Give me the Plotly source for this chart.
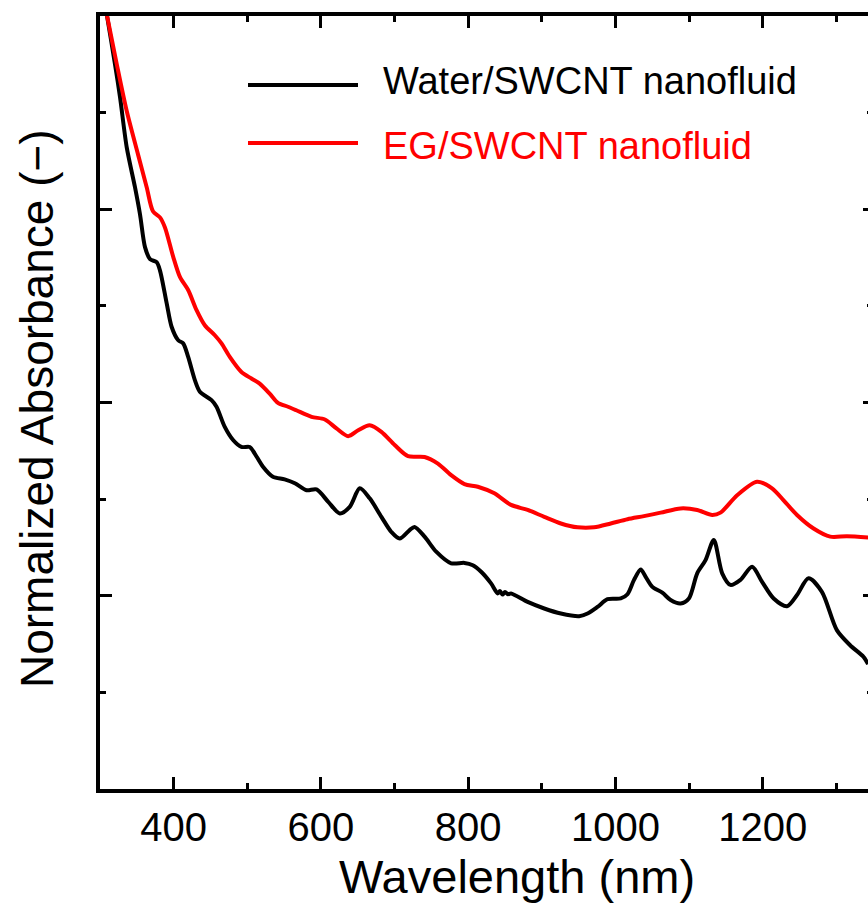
import plotly.graph_objects as go

# Water/SWCNT nanofluid spectrum (wavelength in nm, normalized absorbance)
water_wl = [300, 309.2, 320.4, 327.2, 336.3, 347.5, 354.3, 361.1, 367.9, 376.9,
            381.4, 390.5, 397.2, 406.2, 412.9, 419.7, 428.8, 435.6, 451.4, 458.2,
            469.4, 480.7, 492.0, 503.3, 510.1, 521.3, 534.8, 550.7, 564.6, 580.5,
            594.0, 609.9, 625.6, 639.1, 652.7, 666.2, 682.1, 695.6, 706.8, 720.4,
            727.1, 740.7, 756.5, 776.8, 794.9, 806.2, 817.5, 831.0, 840.1, 843.0,
            846.5, 850.0, 854.0, 858.1, 880.7, 903.2, 925.8, 950.6, 962.0, 975.5,
            989.1, 1007.1, 1016.2, 1025.1, 1034.2, 1040.9, 1050.0, 1063.5, 1074.8, 1088.3,
            1099.6, 1110.9, 1122.2, 1133.4, 1144.8, 1156.0, 1169.6, 1185.4, 1199.0, 1214.7,
            1232.8, 1246.4, 1262.1, 1280.2, 1300.5, 1318.5, 1336.6, 1342.9]
water_abs = [2.108, 2.004, 1.875, 1.790, 1.660, 1.557, 1.487, 1.402, 1.371, 1.363,
             1.342, 1.257, 1.196, 1.161, 1.153, 1.118, 1.058, 1.028, 1.006, 0.989,
             0.937, 0.903, 0.885, 0.885, 0.868, 0.834, 0.808, 0.801, 0.791, 0.773,
             0.775, 0.743, 0.713, 0.730, 0.778, 0.752, 0.704, 0.665, 0.648, 0.670,
             0.678, 0.653, 0.614, 0.584, 0.585, 0.579, 0.562, 0.532, 0.506, 0.512,
             0.503, 0.510, 0.504, 0.506, 0.484, 0.467, 0.454, 0.447, 0.454, 0.471,
             0.491, 0.493, 0.504, 0.541, 0.568, 0.549, 0.523, 0.508, 0.489, 0.480,
             0.493, 0.558, 0.592, 0.644, 0.558, 0.528, 0.541, 0.575, 0.536, 0.493,
             0.473, 0.502, 0.545, 0.510, 0.411, 0.372, 0.342, 0.323]

# EG/SWCNT nanofluid spectrum
eg_wl = [300, 309.2, 322.8, 336.3, 351.6, 363.4, 371.9, 381.4, 388.2, 399.4,
         408.5, 419.7, 431.1, 442.3, 455.9, 465.0, 476.2, 492.0, 505.6, 516.8,
         530.4, 541.6, 555.2, 566.5, 587.2, 605.3, 621.1, 637.0, 650.5, 666.2,
         682.1, 700.1, 718.2, 740.7, 758.8, 776.8, 794.9, 813.0, 835.5, 858.1,
         880.7, 903.2, 925.8, 948.4, 970.9, 993.5, 1016.2, 1038.6, 1061.3, 1088.3,
         1110.9, 1131.3, 1142.5, 1165.1, 1192.2, 1212.5, 1228.2, 1246.4, 1268.9, 1291.5,
         1314.1, 1342.9]
eg_abs = [2.090, 2.004, 1.875, 1.754, 1.642, 1.557, 1.495, 1.479, 1.453, 1.377,
          1.325, 1.291, 1.239, 1.200, 1.174, 1.153, 1.118, 1.079, 1.062, 1.049,
          1.023, 0.999, 0.989, 0.980, 0.963, 0.956, 0.933, 0.913, 0.928, 0.941,
          0.924, 0.890, 0.861, 0.859, 0.842, 0.812, 0.789, 0.782, 0.765, 0.735,
          0.722, 0.704, 0.687, 0.677, 0.677, 0.687, 0.698, 0.706, 0.715, 0.726,
          0.722, 0.709, 0.715, 0.760, 0.795, 0.778, 0.747, 0.709, 0.674, 0.653,
          0.654, 0.651]

x_range = [300, 1342.8]
y_range = [0, 2]
x_tickvals = [400, 600, 800, 1000, 1200]
x_ticktext = ["400", "600", "800", "1000", "1200"]

legend_names = ["Water/SWCNT nanofluid", "EG/SWCNT nanofluid"]
colors = ["#000000", "#ff0000"]

FONT = "Liberation Sans, Arial, sans-serif"
L, R, T, B = 100, 0, 16, 120
W, H = 868, 909
plot_w = W - L - R
plot_h = H - T - B


def px_x(p):
    return (p - L) / plot_w


def px_y(p):
    return (H - B - p) / plot_h


fig = go.Figure()
fig.add_trace(go.Scatter(x=water_wl, y=water_abs, mode="lines",
                         line=dict(color=colors[0], width=4, shape="spline", smoothing=0.8),
                         name=legend_names[0]))
fig.add_trace(go.Scatter(x=eg_wl, y=eg_abs, mode="lines",
                         line=dict(color=colors[1], width=4, shape="spline", smoothing=0.8),
                         name=legend_names[1], yaxis="y2"))

tick_common = dict(ticks="inside", tickcolor="black", tickwidth=2.5)

fig.update_layout(
    width=W, height=H,
    margin=dict(l=L, r=R, t=T, b=B),
    paper_bgcolor="white", plot_bgcolor="white",
    showlegend=False,
    font=dict(family=FONT, color="black"),
    xaxis=dict(range=x_range, tickvals=x_tickvals, ticktext=x_ticktext,
               showline=True, linecolor="black", linewidth=4, mirror="ticks",
               ticklen=12, showgrid=False, zeroline=False,
               tickfont=dict(size=40, family=FONT, color="black"),
               ticklabelstandoff=0,
               minor=dict(dtick=100, tick0=0, ticks="inside", ticklen=6,
                          tickcolor="black", tickwidth=2.5, showgrid=False),
               **tick_common),
    yaxis=dict(range=y_range, dtick=0.5, tick0=0, showticklabels=False,
               showline=True, linecolor="black", linewidth=4, mirror=False,
               ticklen=12, showgrid=False, zeroline=False,
               minor=dict(dtick=0.25, tick0=0, ticks="inside", ticklen=6,
                          tickcolor="black", tickwidth=2.5, showgrid=False),
               **tick_common),
    yaxis2=dict(range=y_range, dtick=0.5, tick0=0, showticklabels=False,
                overlaying="y", side="right", anchor="x",
                showline=False, ticklen=5, showgrid=False, zeroline=False,
                minor=dict(dtick=0.25, tick0=0, ticks="inside", ticklen=1,
                           tickcolor="black", tickwidth=2.5, showgrid=False),
                **tick_common),
)

# Axis titles
fig.add_annotation(text="Wavelength (nm)", xref="paper", yref="paper",
                   x=px_x(517), y=px_y(876), xanchor="center", yanchor="middle",
                   showarrow=False, font=dict(size=47, family=FONT, color="black"))
fig.add_annotation(text="Normalized Absorbance (\u2212)", xref="paper", yref="paper",
                   x=px_x(37), y=px_y(409), xanchor="center", yanchor="middle",
                   textangle=-90, showarrow=False,
                   font=dict(size=46, family=FONT, color="black"))

# Legend drawn as line samples with labels
legend_rows = [85, 143]
text_rows = [81, 146]
for name, color, ly, ty in zip(legend_names, colors, legend_rows, text_rows):
    fig.add_shape(type="line", xref="paper", yref="paper",
                  x0=px_x(248), x1=px_x(358), y0=px_y(ly), y1=px_y(ly),
                  line=dict(color=color, width=4))
    fig.add_annotation(text=name, xref="paper", yref="paper",
                       x=px_x(381), y=px_y(ty), xanchor="left", yanchor="middle",
                       showarrow=False, font=dict(size=38, family=FONT, color=color))

fig.write_html("out.html")
